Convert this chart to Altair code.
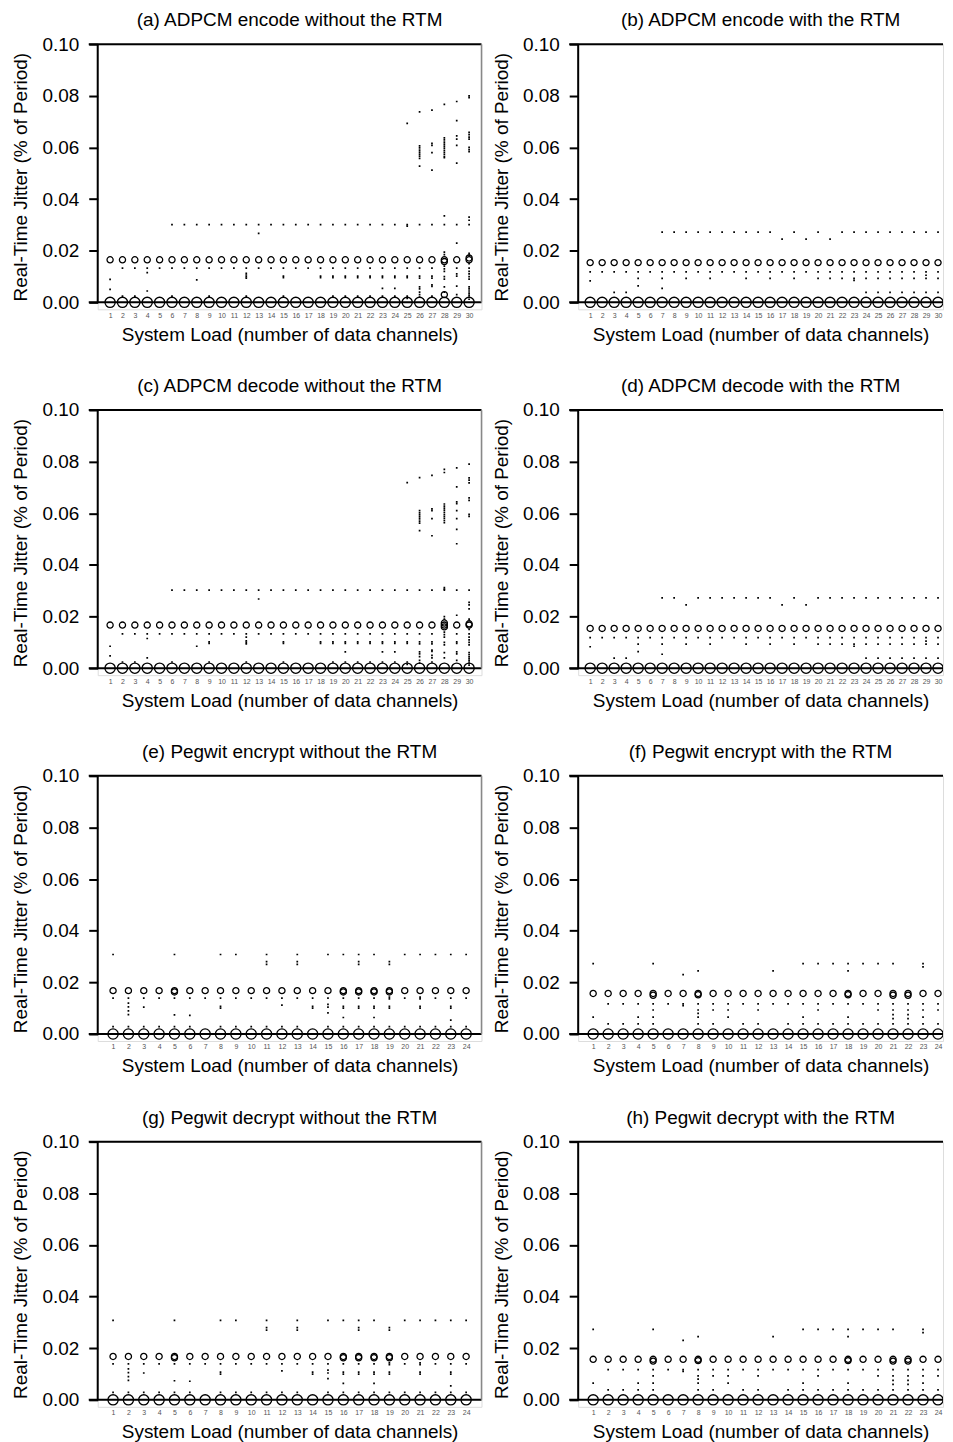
import altair as alt
import pandas as pd

FONT = "Liberation Sans"

Y_TICKS = [0.0, 0.02, 0.04, 0.06, 0.08, 0.10]
X_TITLE = "System Load (number of data channels)"
Y_TITLE = "Real-Time Jitter (% of Period)"

TITLES = [
    "(a) ADPCM encode without the RTM",
    "(b) ADPCM encode with the RTM",
    "(c) ADPCM decode without the RTM",
    "(d) ADPCM decode with the RTM",
    "(e) Pegwit encrypt without the RTM",
    "(f) Pegwit encrypt with the RTM",
    "(g) Pegwit decrypt without the RTM",
    "(h) Pegwit decrypt with the RTM",
]
N_CHANNELS = [30, 30, 30, 30, 24, 24, 24, 24]

# level of the upper row of open circles, per panel
HI_LEVEL = [0.0165, 0.0154, 0.0167, 0.0154, 0.0168, 0.0157, 0.0168, 0.0157]

# ---- (a) ADPCM encode without RTM : small points per channel 1..30
DOTS_A = [
    [0.0089, 0.0050],
    [0.0133, 0.0024],
    [0.0133, 0.0024],
    [0.0133, 0.0115, 0.0044],
    [0.0133],
    [0.0301, 0.0133, 0.0024],
    [0.0301, 0.0133],
    [0.0301, 0.0133, 0.0087],
    [0.0301, 0.0133, 0.0024],
    [0.0301, 0.0133],
    [0.0301, 0.0133],
    [0.0301, 0.0133, 0.0112, 0.0106, 0.0100, 0.0094, 0.0024],
    [0.0301, 0.0267, 0.0133],
    [0.0301, 0.0133],
    [0.0301, 0.0133, 0.0102, 0.0096, 0.0024],
    [0.0301, 0.0133],
    [0.0301, 0.0133],
    [0.0301, 0.0133, 0.0102, 0.0096],
    [0.0301, 0.0133, 0.0102, 0.0096, 0.0024],
    [0.0301, 0.0133, 0.0102, 0.0096, 0.0024],
    [0.0301, 0.0133, 0.0102, 0.0096, 0.0024],
    [0.0301, 0.0133, 0.0102, 0.0096, 0.0024],
    [0.0301, 0.0133, 0.0102, 0.0096, 0.0054, 0.0024],
    [0.0301, 0.0133, 0.0102, 0.0096, 0.0054, 0.0024],
    [0.0693, 0.0301, 0.0295, 0.0133, 0.0102, 0.0096, 0.0024, 0.0015],
    [0.0738, 0.0606, 0.0598, 0.0590, 0.0582, 0.0574, 0.0566, 0.0558, 0.0528,
     0.0301, 0.0133, 0.0102, 0.0094, 0.0060, 0.0052, 0.0040, 0.0030, 0.0020],
    [0.0745, 0.0616, 0.0608, 0.0580, 0.0512, 0.0301, 0.0133, 0.0102, 0.0094,
     0.0068, 0.0062, 0.0024],
    [0.0767, 0.0637, 0.0629, 0.0621, 0.0613, 0.0605, 0.0597, 0.0589, 0.0581,
     0.0573, 0.0565, 0.0561, 0.0335, 0.0301, 0.0195, 0.0185, 0.0140, 0.0130,
     0.0120, 0.0100, 0.0090, 0.0060, 0.0040],
    [0.0778, 0.0704, 0.0645, 0.0632, 0.0608, 0.0539, 0.0301, 0.0229, 0.0133,
     0.0110, 0.0102, 0.0063, 0.0030],
    [0.0800, 0.0793, 0.0658, 0.0650, 0.0640, 0.0632, 0.0600, 0.0592, 0.0584,
     0.0330, 0.0318, 0.0301, 0.0190, 0.0183, 0.0150, 0.0133, 0.0120, 0.0110,
     0.0100, 0.0090, 0.0060, 0.0052, 0.0044, 0.0036, 0.0028, 0.0020, 0.0012],
]
EXTRA_CIRCLES_A = [(28, 0.0158), (28, 0.0030), (30, 0.0172)]

# ---- (c) ADPCM decode without RTM
DOTS_C = [
    [0.0085, 0.0048],
    [0.0133, 0.0024],
    [0.0133, 0.0024],
    [0.0133, 0.0115, 0.0040],
    [0.0133],
    [0.0302, 0.0133, 0.0024],
    [0.0302, 0.0133],
    [0.0302, 0.0133, 0.0085],
    [0.0302, 0.0133, 0.0102, 0.0096, 0.0024],
    [0.0302, 0.0133],
    [0.0302, 0.0133],
    [0.0302, 0.0133, 0.0120, 0.0106, 0.0100, 0.0094, 0.0024],
    [0.0302, 0.0268, 0.0133],
    [0.0302, 0.0133],
    [0.0302, 0.0133, 0.0102, 0.0096, 0.0024],
    [0.0302, 0.0133],
    [0.0302, 0.0133],
    [0.0302, 0.0133, 0.0102, 0.0096],
    [0.0302, 0.0133, 0.0102, 0.0096, 0.0024],
    [0.0302, 0.0133, 0.0102, 0.0096, 0.0063, 0.0024],
    [0.0302, 0.0133, 0.0102, 0.0096, 0.0024],
    [0.0302, 0.0133, 0.0102, 0.0096, 0.0024],
    [0.0302, 0.0133, 0.0102, 0.0096, 0.0063, 0.0024],
    [0.0302, 0.0133, 0.0102, 0.0096, 0.0063, 0.0024],
    [0.0719, 0.0302, 0.0133, 0.0102, 0.0096, 0.0024, 0.0015],
    [0.0738, 0.0610, 0.0602, 0.0594, 0.0586, 0.0578, 0.0570, 0.0562, 0.0533,
     0.0302, 0.0133, 0.0102, 0.0094, 0.0063, 0.0055, 0.0045, 0.0030, 0.0020],
    [0.0747, 0.0617, 0.0610, 0.0579, 0.0513, 0.0302, 0.0133, 0.0102, 0.0094,
     0.0070, 0.0065, 0.0050, 0.0040, 0.0024],
    [0.0770, 0.0758, 0.0636, 0.0628, 0.0620, 0.0612, 0.0604, 0.0596, 0.0588,
     0.0580, 0.0572, 0.0564, 0.0312, 0.0306, 0.0302, 0.0200, 0.0190, 0.0140,
     0.0130, 0.0120, 0.0100, 0.0090, 0.0060, 0.0040],
    [0.0776, 0.0702, 0.0644, 0.0637, 0.0610, 0.0579, 0.0538, 0.0482, 0.0302,
     0.0205, 0.0133, 0.0102, 0.0096, 0.0063, 0.0055, 0.0030],
    [0.0790, 0.0737, 0.0728, 0.0718, 0.0660, 0.0650, 0.0596, 0.0588, 0.0302,
     0.0255, 0.0245, 0.0230, 0.0190, 0.0150, 0.0133, 0.0120, 0.0110, 0.0100,
     0.0090, 0.0060, 0.0052, 0.0044, 0.0036, 0.0028, 0.0020, 0.0012],
]
EXTRA_CIRCLES_C = [(28, 0.0160), (28, 0.0175), (30, 0.0172)]

# ---- (b) ADPCM encode with RTM
DOTS_B = [
    [0.0118, 0.0083],
    [0.0118],
    [0.0118, 0.0039],
    [0.0118, 0.0039],
    [0.0118, 0.0093, 0.0064],
    [0.0118],
    [0.0272, 0.0118, 0.0093, 0.0054],
    [0.0272, 0.0118],
    [0.0272, 0.0118, 0.0093],
    [0.0272, 0.0118],
    [0.0272, 0.0118, 0.0093],
    [0.0272, 0.0118],
    [0.0272, 0.0118],
    [0.0272, 0.0118, 0.0093],
    [0.0272, 0.0118],
    [0.0272, 0.0118, 0.0093],
    [0.0245, 0.0118],
    [0.0272, 0.0118, 0.0093],
    [0.0245, 0.0118],
    [0.0272, 0.0118, 0.0093],
    [0.0245, 0.0118, 0.0093],
    [0.0272, 0.0118, 0.0093],
    [0.0272, 0.0118, 0.0093, 0.0085],
    [0.0272, 0.0118, 0.0093, 0.0039],
    [0.0272, 0.0118, 0.0093, 0.0039],
    [0.0272, 0.0118, 0.0093, 0.0039],
    [0.0272, 0.0118, 0.0093, 0.0039],
    [0.0272, 0.0118, 0.0093, 0.0039],
    [0.0272, 0.0118, 0.0105, 0.0093, 0.0039],
    [0.0272, 0.0118, 0.0093, 0.0039],
]
EXTRA_CIRCLES_B = []

# ---- (d) ADPCM decode with RTM
DOTS_D = [
    [0.0118, 0.0083],
    [0.0118],
    [0.0118, 0.0039],
    [0.0118, 0.0039],
    [0.0118, 0.0093, 0.0064],
    [0.0118],
    [0.0272, 0.0118, 0.0093, 0.0054],
    [0.0272, 0.0118],
    [0.0245, 0.0118, 0.0093],
    [0.0272, 0.0118],
    [0.0272, 0.0118, 0.0093],
    [0.0272, 0.0118],
    [0.0272, 0.0118],
    [0.0272, 0.0118, 0.0093],
    [0.0272, 0.0118],
    [0.0272, 0.0118, 0.0093],
    [0.0245, 0.0118],
    [0.0272, 0.0118, 0.0093],
    [0.0245, 0.0118],
    [0.0272, 0.0118, 0.0093],
    [0.0272, 0.0118, 0.0093],
    [0.0272, 0.0118, 0.0093],
    [0.0272, 0.0118, 0.0093, 0.0085],
    [0.0272, 0.0118, 0.0093, 0.0039],
    [0.0272, 0.0118, 0.0093, 0.0039],
    [0.0272, 0.0118, 0.0093, 0.0039],
    [0.0272, 0.0118, 0.0093, 0.0039],
    [0.0272, 0.0118, 0.0093, 0.0039],
    [0.0272, 0.0118, 0.0105, 0.0093, 0.0039],
    [0.0272, 0.0118, 0.0093, 0.0039],
]
EXTRA_CIRCLES_D = []

# ---- (e)/(g) Pegwit without RTM, channels 1..24
DOTS_E = [
    [0.0308, 0.0139, 0.0029],
    [0.0139, 0.0120, 0.0105, 0.0090, 0.0075, 0.0029],
    [0.0139, 0.0104, 0.0029],
    [0.0139, 0.0029],
    [0.0308, 0.0139, 0.0074, 0.0029],
    [0.0139, 0.0072, 0.0029],
    [0.0139],
    [0.0308, 0.0139, 0.0107, 0.0100, 0.0029],
    [0.0308, 0.0139, 0.0029],
    [0.0139, 0.0029],
    [0.0308, 0.0280, 0.0270, 0.0139, 0.0029],
    [0.0139, 0.0112, 0.0029],
    [0.0308, 0.0280, 0.0270, 0.0139, 0.0029],
    [0.0139, 0.0107, 0.0100],
    [0.0308, 0.0139, 0.0115, 0.0104, 0.0082, 0.0029],
    [0.0308, 0.0139, 0.0107, 0.0100, 0.0064, 0.0029],
    [0.0308, 0.0280, 0.0270, 0.0139, 0.0107, 0.0100, 0.0029],
    [0.0308, 0.0139, 0.0107, 0.0100, 0.0064, 0.0029],
    [0.0280, 0.0270, 0.0143, 0.0136, 0.0107, 0.0100, 0.0029],
    [0.0308, 0.0139, 0.0029],
    [0.0308, 0.0143, 0.0136, 0.0107, 0.0100, 0.0029],
    [0.0308, 0.0139, 0.0029],
    [0.0308, 0.0139, 0.0107, 0.0100, 0.0054, 0.0029],
    [0.0308, 0.0139, 0.0029],
]
EXTRA_CIRCLES_E = [(5, 0.0163), (16, 0.0163), (17, 0.0163), (18, 0.0163), (19, 0.0163)]

# ---- (f)/(h) Pegwit with RTM
DOTS_F = [
    [0.0273, 0.0065],
    [0.0117, 0.0039],
    [0.0117, 0.0039],
    [0.0117, 0.0065, 0.0039],
    [0.0273, 0.0117, 0.0093, 0.0065, 0.0039],
    [0.0117],
    [0.0230, 0.0117, 0.0110],
    [0.0245, 0.0117, 0.0093, 0.0080, 0.0065, 0.0039],
    [0.0117, 0.0093, 0.0039],
    [0.0117, 0.0093, 0.0065],
    [0.0117, 0.0039],
    [0.0117, 0.0093, 0.0039],
    [0.0245, 0.0117],
    [0.0117, 0.0039],
    [0.0273, 0.0117, 0.0065, 0.0039],
    [0.0273, 0.0117, 0.0093, 0.0039],
    [0.0273, 0.0117, 0.0039],
    [0.0273, 0.0245, 0.0117, 0.0065, 0.0039],
    [0.0273, 0.0117, 0.0039],
    [0.0273, 0.0117, 0.0093, 0.0039],
    [0.0273, 0.0117, 0.0093, 0.0075, 0.0060, 0.0039],
    [0.0117, 0.0093, 0.0075, 0.0060, 0.0039],
    [0.0273, 0.0260, 0.0117, 0.0093, 0.0065, 0.0039],
    [0.0117, 0.0093, 0.0039],
]
EXTRA_CIRCLES_F = [(5, 0.0150), (8, 0.0152), (18, 0.0152), (21, 0.0150), (22, 0.0150)]

PANEL_DOTS = [DOTS_A, DOTS_B, DOTS_C, DOTS_D, DOTS_E, DOTS_F, DOTS_E, DOTS_F]
PANEL_EXTRA = [EXTRA_CIRCLES_A, EXTRA_CIRCLES_B, EXTRA_CIRCLES_C, EXTRA_CIRCLES_D,
               EXTRA_CIRCLES_E, EXTRA_CIRCLES_F, EXTRA_CIRCLES_E, EXTRA_CIRCLES_F]

W_LEFT = 385     # plot width of left column
W_RIGHT = 366    # right column, ends at the page edge
H_PLOT = 259     # pixels between 0.00 and 0.10
H_BELOW = 7      # extra room under 0.00 so the zero circles are not clipped
Y_MIN = -0.1 * H_BELOW / H_PLOT


def panel(idx):
    left = idx % 2 == 0
    n = N_CHANNELS[idx]
    if left:
        W = W_LEFT
        xmax = n + 1
    else:
        W = W_RIGHT
        xmax = n * W / (W - 5)   # last channel sits right at the cut edge
    xs = list(range(1, n + 1))
    zero_df = pd.DataFrame({"x": xs, "y": [0.0] * n})
    extra = PANEL_EXTRA[idx]
    hi_df = pd.DataFrame({"x": xs + [e[0] for e in extra],
                          "y": [HI_LEVEL[idx]] * n + [e[1] for e in extra]})
    rows = [(i + 1, v) for i, vals in enumerate(PANEL_DOTS[idx]) for v in vals]
    dot_df = pd.DataFrame(rows, columns=["x", "y"])

    xscale = alt.Scale(domain=[0, xmax], nice=False, zero=False)
    yscale = alt.Scale(domain=[Y_MIN, 0.1], nice=False, zero=False)
    xaxis = alt.Axis(values=xs, title=X_TITLE, domain=False, ticks=False, tickSize=0,
                     grid=False, labelFontSize=7, labelColor="#555555",
                     labelPadding=2, titleFontSize=19,
                     titleFontWeight="normal", titleColor="black", titlePadding=7,
                     labelOverlap=False)
    yaxis = alt.Axis(values=Y_TICKS, format=".2f", title=Y_TITLE, grid=False,
                     domain=False, tickColor="black",
                     tickWidth=2, tickSize=9, labelFontSize=19, labelColor="black",
                     labelPadding=10, titleFontSize=19, titleFontWeight="normal",
                     titleColor="black", titlePadding=11)
    X = alt.X("x:Q", scale=xscale, axis=xaxis)
    Y = alt.Y("y:Q", scale=yscale, axis=yaxis)

    hlines = alt.Chart(pd.DataFrame({"y": [0.0, 0.1]})).mark_rule(
        color="black", strokeWidth=2).encode(
        y=Y, x=alt.value(-9), x2=alt.value(W))
    yline = alt.Chart(pd.DataFrame({"y": [0.0], "y2": [0.1]})).mark_rule(
        color="black", strokeWidth=2).encode(
        x=alt.value(0), y=Y, y2="y2:Q")
    zero_c = alt.Chart(zero_df).mark_point(
        shape="circle", filled=False, color="black", size=105,
        strokeWidth=1.3, opacity=1, clip=True).encode(x=X, y=Y)
    hi_c = alt.Chart(hi_df).mark_point(
        shape="circle", filled=False, color="black", size=38,
        strokeWidth=1.3, opacity=1, clip=True).encode(x=X, y=Y)
    dots = alt.Chart(dot_df).mark_square(
        size=3, color="black", opacity=1, clip=True).encode(x=X, y=Y)
    layers = [hlines, yline, zero_c, hi_c, dots]
    if left:
        border = alt.Chart(pd.DataFrame({"y": [0.0], "y2": [0.1]})).mark_rule(
            color="#888888", strokeWidth=1.5).encode(
            x=alt.value(W), y=Y, y2="y2:Q")
        layers.append(border)
    return alt.layer(*layers).properties(
        width=W, height=H_PLOT + H_BELOW,
        title=alt.TitleParams(TITLES[idx], fontSize=19, fontWeight="normal",
                              anchor="middle", offset=5, color="black"))


rows = [alt.hconcat(panel(2 * r), panel(2 * r + 1), spacing=8) for r in range(4)]
chart = alt.vconcat(*rows, spacing=31).configure_view(
    strokeWidth=0, stroke="transparent").configure(
    font=FONT, padding={"left": 3, "top": 0, "right": 0, "bottom": 0})

chart.save("out.html", embed_options={"renderer": "svg", "actions": False})
